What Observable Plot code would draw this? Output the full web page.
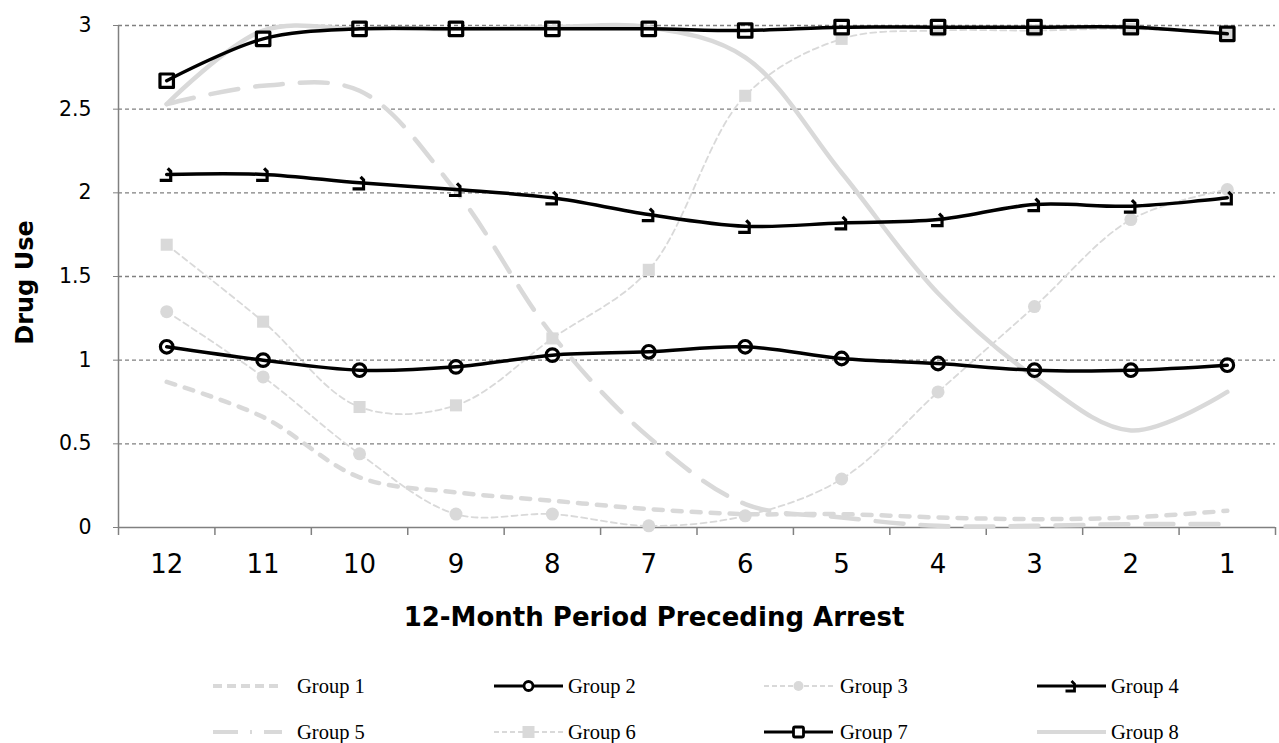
<!DOCTYPE html>
<html>
<head>
<meta charset="utf-8">
<script src="https://cdn.jsdelivr.net/npm/d3@7"></script>
<script src="https://cdn.jsdelivr.net/npm/@observablehq/plot@0.6"></script>
<style>
  html, body { margin: 0; padding: 0; background: #fff; }
  #wrap { width: 1279px; position: relative; }
  #legend { position: relative; width: 1279px; height: 93px; font-family: "Liberation Serif", "Times New Roman", serif; font-size: 20.5px; color: #000; }
  .item { position: absolute; display: flex; align-items: center; height: 24px; }
  .item svg { display: block; }
  .item span { white-space: nowrap; }
</style>
</head>
<body>
<div id="wrap"></div>
<script>
// ---- data ----
const periods = [12, 11, 10, 9, 8, 7, 6, 5, 4, 3, 2, 1];
const yTicks = [0, 0.5, 1, 1.5, 2, 2.5, 3];
const groupNames = ["Group 1", "Group 2", "Group 3", "Group 4", "Group 5", "Group 6", "Group 7", "Group 8"];
const g1 = [0.87, 0.66, 0.30, 0.21, 0.16, 0.11, 0.08, 0.08, 0.06, 0.05, 0.06, 0.10];
const g2 = [1.08, 1.00, 0.94, 0.96, 1.03, 1.05, 1.08, 1.01, 0.98, 0.94, 0.94, 0.97];
const g3 = [1.29, 0.90, 0.44, 0.08, 0.08, 0.01, 0.07, 0.29, 0.81, 1.32, 1.84, 2.02];
const g4 = [2.11, 2.11, 2.06, 2.02, 1.97, 1.87, 1.80, 1.82, 1.84, 1.93, 1.92, 1.97];
const g5 = [2.53, 2.64, 2.61, 2.01, 1.15, 0.54, 0.14, 0.06, 0.01, 0.01, 0.02, 0.02];
const g6 = [1.69, 1.23, 0.72, 0.73, 1.13, 1.54, 2.58, 2.92, 2.97, 2.97, 2.98, 2.95];
const g7 = [2.67, 2.92, 2.98, 2.98, 2.98, 2.98, 2.97, 2.99, 2.99, 2.99, 2.99, 2.95];
const g8 = [2.53, 2.97, 2.98, 2.98, 2.99, 2.99, 2.81, 2.12, 1.40, 0.90, 0.58, 0.81];
const xTitle = "12-Month Period Preceding Arrest";
const yTitle = "Drug Use";

// ---- helpers ----
const rows = (vals) => periods.map((p, i) => ({p, v: vals[i]}));
const bounds = periods.map(p => p + 0.5).concat([0.5]);
const GRAY = "#d9d9d9";
const hookSymbol = {
  draw(ctx, size) {
    const r = Math.sqrt(size / Math.PI);
    const k = r / 7;
    ctx.moveTo(-7 * k, 6 * k);
    ctx.lineTo(4 * k, 6 * k);
    ctx.lineTo(4 * k, -3 * k);
    ctx.lineTo(1 * k, -6 * k);
  }
};

const grayThick = {x: "p", y: "v", curve: "catmull-rom", stroke: GRAY, strokeWidth: 4.5, strokeLinecap: "round"};
const grayThin = {x: "p", y: "v", curve: "catmull-rom", stroke: GRAY, strokeWidth: 1.8, strokeDasharray: "6,4"};
const blackLine = {x: "p", y: "v", curve: "catmull-rom", stroke: "#000", strokeWidth: 3.5};

const chart = Plot.plot({
  width: 1279,
  height: 650,
  marginLeft: 118,
  marginRight: 4,
  marginTop: 25,
  marginBottom: 123,
  x: {type: "linear", domain: [12.5, 0.5]},
  y: {type: "linear", domain: [0, 3]},
  style: {fontFamily: "'DejaVu Sans', Verdana, sans-serif", background: "#fff", color: "#000"},
  marks: [
    Plot.gridY(yTicks.filter(d => d > 0), {stroke: "#808080", strokeOpacity: 1, strokeWidth: 1.3, strokeDasharray: "4,3"}),
    Plot.axisY(yTicks, {tickSize: 5, tickPadding: 22, fontSize: 20.5, stroke: "#808080", fill: "#000", tickFormat: d => `${d}`, label: null}),
    Plot.ruleX([12.5], {stroke: "#808080", strokeWidth: 1.5}),
    Plot.ruleY([0], {stroke: "#808080", strokeWidth: 1.5}),
    Plot.axisX(bounds, {tickSize: 8, tickFormat: () => "", stroke: "#808080", strokeWidth: 1.5, label: null}),
    Plot.axisX(periods, {tickSize: 0, tickPadding: 27, fontSize: 26, fill: "#000", tickFormat: d => `${d}`, label: null}),
    // gray series
    Plot.line(rows(g1), {...grayThick, strokeDasharray: "9,10"}),
    Plot.line(rows(g5), {...grayThick, strokeDasharray: "28,17"}),
    Plot.line(rows(g8), {...grayThick}),
    Plot.line(rows(g3), grayThin),
    Plot.line(rows(g6), grayThin),
    Plot.dot(rows(g3), {x: "p", y: "v", r: 6.5, fill: GRAY, stroke: "none"}),
    Plot.dot(rows(g6), {x: "p", y: "v", r: 6.8, symbol: "square", fill: GRAY, stroke: "none"}),
    // black series
    Plot.line(rows(g2), blackLine),
    Plot.line(rows(g4), blackLine),
    Plot.line(rows(g7), blackLine),
    Plot.dot(rows(g2), {x: "p", y: "v", r: 6.3, fill: "none", stroke: "#000", strokeWidth: 3.2}),
    Plot.dot(rows(g4), {x: "p", y: "v", r: 7, symbol: hookSymbol, fill: "none", stroke: "#000", strokeWidth: 3.2}),
    Plot.dot(rows(g7), {x: "p", y: "v", r: 7.6, symbol: "square", fill: "none", stroke: "#000", strokeWidth: 3.2, strokeLinejoin: "round"}),
    // titles
    Plot.text([xTitle], {frameAnchor: "bottom", textAnchor: "middle", dy: 98, dx: -43, fontSize: 26, fontWeight: "bold", fill: "#000"}),
    Plot.text([yTitle], {frameAnchor: "left", textAnchor: "middle", dx: -93, dy: 6, rotate: -90, fontSize: 24, fontWeight: "bold", fill: "#000"})
  ]
});
document.getElementById("wrap").appendChild(chart);

// ---- legend ----
const legendSpecs = [
  {line: {stroke: GRAY, w: 4, dash: "9,5"}},
  {line: {stroke: "#000", w: 3.2}, marker: "circle"},
  {line: {stroke: GRAY, w: 1.8, dash: "5,3"}, marker: "gcircle"},
  {line: {stroke: "#000", w: 3.2}, marker: "hook"},
  {line: {stroke: GRAY, w: 4, dash: "25,12,2,12,25"}},
  {line: {stroke: GRAY, w: 1.8, dash: "5,3"}, marker: "gsquare"},
  {line: {stroke: "#000", w: 3.2}, marker: "square"},
  {line: {stroke: GRAY, w: 4}}
];
const colSwatch = [213, 494, 764, 1037];
const colLabel = [297, 568, 840, 1111];
const rowY = [686 - 650, 732 - 650];
const legend = document.createElement("div");
legend.id = "legend";
const NS = "http://www.w3.org/2000/svg";
legendSpecs.forEach((s, i) => {
  const col = i % 4, row = Math.floor(i / 4);
  const sw = 69;
  const item = document.createElement("div");
  item.className = "item";
  item.style.left = colSwatch[col] + "px";
  item.style.top = (rowY[row] - 12) + "px";
  const svg = document.createElementNS(NS, "svg");
  svg.setAttribute("width", sw);
  svg.setAttribute("height", 24);
  const ln = document.createElementNS(NS, "line");
  ln.setAttribute("x1", 0); ln.setAttribute("x2", sw);
  ln.setAttribute("y1", 12); ln.setAttribute("y2", 12);
  ln.setAttribute("stroke", s.line.stroke);
  ln.setAttribute("stroke-width", s.line.w);
  if (s.line.dash) ln.setAttribute("stroke-dasharray", s.line.dash);
  svg.appendChild(ln);
  const cx = sw / 2;
  if (s.marker) {
    let m;
    if (s.marker === "circle" || s.marker === "gcircle") {
      m = document.createElementNS(NS, "circle");
      m.setAttribute("cx", cx); m.setAttribute("cy", 12); m.setAttribute("r", s.marker === "circle" ? 4.5 : 5);
      if (s.marker === "circle") { m.setAttribute("fill", "#fff"); m.setAttribute("stroke", "#000"); m.setAttribute("stroke-width", 2.8); }
      else { m.setAttribute("fill", GRAY); }
    } else if (s.marker === "square" || s.marker === "gsquare") {
      m = document.createElementNS(NS, "rect");
      const h = s.marker === "square" ? 5 : 6;
      m.setAttribute("x", cx - h); m.setAttribute("y", 12 - h); m.setAttribute("width", 2 * h); m.setAttribute("height", 2 * h);
      if (s.marker === "square") { m.setAttribute("fill", "#fff"); m.setAttribute("stroke", "#000"); m.setAttribute("stroke-width", 2.8); m.setAttribute("rx", 1.5); }
      else { m.setAttribute("fill", GRAY); }
    } else {
      m = document.createElementNS(NS, "path");
      m.setAttribute("d", `M${cx - 6},${17} L${cx + 3},${17} L${cx + 3},${10} L${cx},${7}`);
      m.setAttribute("fill", "none"); m.setAttribute("stroke", "#000"); m.setAttribute("stroke-width", 2.8);
    }
    svg.appendChild(m);
  }
  item.appendChild(svg);
  const lab = document.createElement("span");
  lab.textContent = groupNames[i];
  lab.style.position = "absolute";
  lab.style.left = (colLabel[col] - colSwatch[col]) + "px";
  lab.style.top = "0px";
  lab.style.lineHeight = "24px";
  item.appendChild(lab);
  legend.appendChild(item);
});
document.getElementById("wrap").appendChild(legend);
</script>
</body>
</html>
